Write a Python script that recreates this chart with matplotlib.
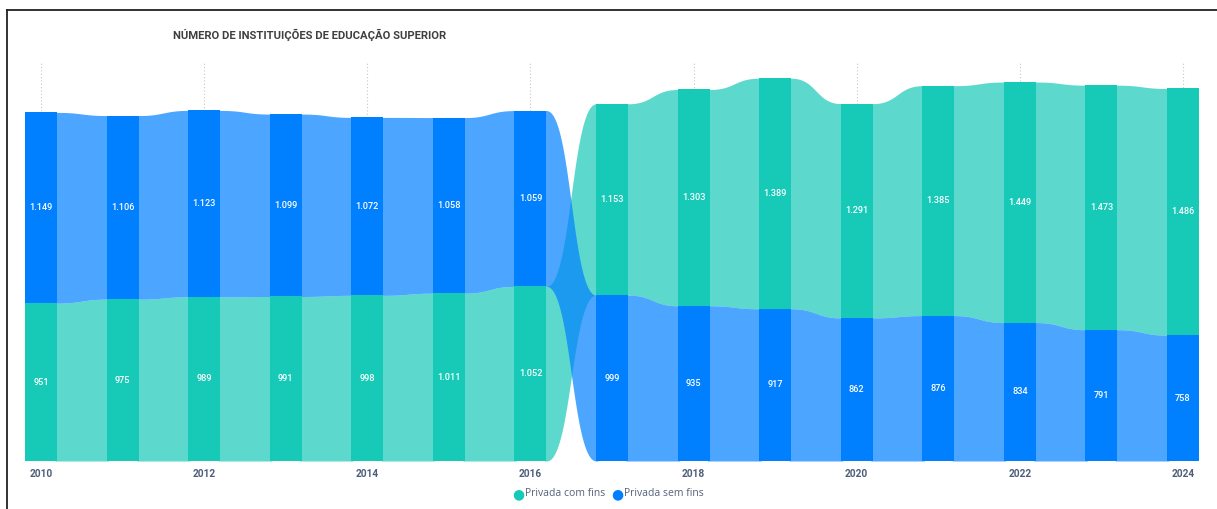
import numpy as np
import matplotlib
matplotlib.use("Agg")
import matplotlib.pyplot as plt
from matplotlib.lines import Line2D

# Data
years = [2010, 2011, 2012, 2013, 2014, 2015, 2016, 2017, 2018, 2019, 2020, 2021, 2022, 2023, 2024]
com_fins = [951, 975, 989, 991, 998, 1011, 1052, 1153, 1303, 1389, 1291, 1385, 1449, 1473, 1486]
sem_fins = [1149, 1106, 1123, 1099, 1072, 1058, 1059, 999, 935, 917, 862, 876, 834, 791, 758]
series_names = ["Privada com fins", "Privada sem fins"]
tick_years = [2010, 2012, 2014, 2016, 2018, 2020, 2022, 2024]
title = "NÚMERO DE INSTITUIÇÕES DE EDUCAÇÃO SUPERIOR"

bar_colors = ["#17C9B7", "#0080FF"]
ribbon_alpha = 0.7

W, H = 1217, 509
fig = plt.figure(figsize=(W / 100, H / 100), dpi=100)
fig.patch.set_facecolor("white")

ax_left, ax_right, ax_bottom, ax_top = 25, 1199, 461, 62
ax = fig.add_axes([ax_left / W, (H - ax_bottom) / H,
                   (ax_right - ax_left) / W, (ax_bottom - ax_top) / H])

px_per_year = (1183 - 41) / 14
hw = 16 / px_per_year
ax.set_xlim(years[0] - hw, years[-1] + hw)
ax.set_ylim(0, (ax_bottom - ax_top) / 0.166)

vals = np.array([com_fins, sem_fins], dtype=float)
n = len(years)
# larger series sits on top in each year
bottoms = np.zeros_like(vals)
for i in range(n):
    if vals[0, i] >= vals[1, i]:
        bottoms[0, i] = vals[1, i]
    else:
        bottoms[1, i] = vals[0, i]
tops = bottoms + vals

# ribbons between bars: cubic Bezier edges with flat tangents at both ends,
# tucked slightly under the bars to avoid seams
u = np.linspace(0, 1, 200)
c = 0.5
bx = 3 * (1 - u) ** 2 * u * c + 3 * (1 - u) * u ** 2 * (1 - c) + u ** 3
by = 3 * (1 - u) * u ** 2 + u ** 3
eps = 2 / px_per_year
for s in range(2):
    for i in range(n - 1):
        x0 = years[i] + hw
        x1 = years[i + 1] - hw
        xs = np.concatenate([[x0 - eps], x0 + (x1 - x0) * bx, [x1 + eps]])
        lo = bottoms[s, i] + (bottoms[s, i + 1] - bottoms[s, i]) * by
        hi = tops[s, i] + (tops[s, i + 1] - tops[s, i]) * by
        lo = np.concatenate([[lo[0]], lo, [lo[-1]]])
        hi = np.concatenate([[hi[0]], hi, [hi[-1]]])
        ax.fill_between(xs, lo, hi, color=bar_colors[s], alpha=ribbon_alpha,
                        linewidth=0, zorder=2)

# bars
for s in range(2):
    ax.bar(years, vals[s], bottom=bottoms[s], width=2 * hw, color=bar_colors[s],
           linewidth=0, zorder=3)
    for i in range(n):
        label = f"{int(vals[s, i]):,}".replace(",", ".")
        ax.text(years[i], bottoms[s, i] + vals[s, i] / 2, label, ha="center", va="center",
                color="white", fontsize=6.6, family="Roboto", fontweight="medium", zorder=4)

# dotted gridlines
for y in tick_years:
    ax.axvline(y, color="#c8c8c8", linestyle=(0, (1, 2)), linewidth=0.8, zorder=1)

for sp in ax.spines.values():
    sp.set_visible(False)
ax.set_yticks([])
ax.set_xticks(tick_years)
ax.set_xticklabels([str(y) for y in tick_years], fontsize=7.3, family="Roboto",
                   fontweight="bold", color="#4C5E79")
ax.tick_params(axis="x", length=0, pad=6)

# title
fig.text(173 / W, 1 - 35 / H, title, ha="left", va="center", fontsize=8.1,
         family="Roboto", fontweight="bold", color="#3f3f3f")

# legend
leg_y = 1 - 494 / H
fig.text(518 / W, leg_y, "●", color=bar_colors[0], fontsize=10, ha="center", va="center",
         family="DejaVu Sans")
fig.text(525 / W, leg_y, series_names[0], color="#55617a", fontsize=7.5, ha="left",
         va="center", family="Open Sans")
fig.text(617 / W, leg_y, "●", color=bar_colors[1], fontsize=10, ha="center", va="center",
         family="DejaVu Sans")
fig.text(624 / W, leg_y, series_names[1], color="#55617a", fontsize=7.5, ha="left",
         va="center", family="Open Sans")

# frame lines
fig.add_artist(Line2D([7 / W, 1], [1 - 10 / H, 1 - 10 / H], color="#222222", linewidth=1.3))
fig.add_artist(Line2D([7 / W, 7 / W], [0, 1 - 10 / H], color="#222222", linewidth=1.3))

fig.savefig("out.png", dpi=100, facecolor="white")
